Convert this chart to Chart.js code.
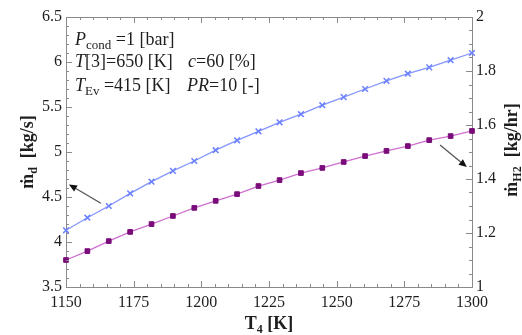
<!DOCTYPE html>
<html>
<head>
<meta charset="utf-8">
<script src="https://cdn.jsdelivr.net/npm/chart.js@4/dist/chart.umd.min.js"></script>
<style>
  html, body { margin: 0; padding: 0; background: #ffffff; }
  #wrap { width: 522px; height: 335px; }
</style>
</head>
<body>
<div id="wrap"><canvas id="c" width="522" height="335"></canvas></div>
<script>
// ---- data ----
const T4 = [1150, 1157.9, 1165.8, 1173.7, 1181.6, 1189.5, 1197.4, 1205.3, 1213.2, 1221.1,
            1228.9, 1236.8, 1244.7, 1252.6, 1260.5, 1268.4, 1276.3, 1284.2, 1292.1, 1300];
const mDotD = [4.13, 4.27, 4.40, 4.54, 4.67, 4.79, 4.90, 5.02, 5.13, 5.23,
               5.33, 5.42, 5.52, 5.61, 5.70, 5.79, 5.87, 5.94, 6.02, 6.10];
const mDotH2 = [1.100, 1.133, 1.170, 1.204, 1.233, 1.263, 1.293, 1.319, 1.344, 1.374,
                1.396, 1.422, 1.441, 1.463, 1.485, 1.504, 1.522, 1.544, 1.559, 1.578];
const xTicks = [1150, 1175, 1200, 1225, 1250, 1275, 1300];
const yLeftTicks = [3.5, 4, 4.5, 5, 5.5, 6, 6.5];
const yRightTicks = [1, 1.2, 1.4, 1.6, 1.8, 2];
// arrows in data coordinates: [x tail, y tail, x tip, y tip]
const arrowLeft = [1162.9, 4.43, 1151.1, 4.64];   // left axis units
const arrowRight = [1288.2, 1.526, 1298.1, 1.444]; // right axis units

const SERIF = '"Liberation Serif", "Times New Roman", serif';
const FRAME = '#8a8a8a';
const TXT = '#1e1e1e';

function drawRich(ctx, parts, x, y, align) {
  let w = 0;
  parts.forEach(p => { ctx.font = p.font; w += ctx.measureText(p.t).width; });
  let cx = align === 'center' ? x - w / 2 : x;
  parts.forEach(p => {
    ctx.font = p.font;
    ctx.fillText(p.t, cx, y + (p.dy || 0));
    cx += ctx.measureText(p.t).width;
  });
}

const decor = {
  id: 'decor',
  afterDraw(chart) {
    const ctx = chart.ctx;
    const a = chart.chartArea;
    const xs = chart.scales.x, yl = chart.scales.y, yr = chart.scales.y2;
    ctx.save();
    // top frame
    ctx.strokeStyle = FRAME; ctx.lineWidth = 1;
    ctx.beginPath(); ctx.moveTo(a.left, a.top + 0.5); ctx.lineTo(a.right, a.top + 0.5); ctx.stroke();
    // ticks x
    ctx.beginPath();
    for (let v = 1150; v <= 1300.001; v += 5) {
      const px = Math.round(xs.getPixelForValue(v)) + 0.5;
      const len = (Math.round(v) % 25 === 0) ? 6 : 3;
      ctx.moveTo(px, a.bottom); ctx.lineTo(px, a.bottom - len);
      ctx.moveTo(px, a.top); ctx.lineTo(px, a.top + len);
    }
    // ticks left
    for (let i = 0; i <= 30; i++) {
      const v = 3.5 + i * 0.1;
      const py = Math.round(yl.getPixelForValue(v)) + 0.5;
      const len = (i % 5 === 0) ? 6 : 3;
      ctx.moveTo(a.left, py); ctx.lineTo(a.left + len, py);
    }
    // ticks right
    for (let i = 0; i <= 20; i++) {
      const v = 1 + i * 0.05;
      const py = Math.round(yr.getPixelForValue(v)) + 0.5;
      const len = (i % 4 === 0) ? 6 : 3;
      ctx.moveTo(a.right, py); ctx.lineTo(a.right - len, py);
    }
    ctx.stroke();

    // arrows
    function arrow(x1, y1, x2, y2) {
      ctx.strokeStyle = '#555'; ctx.fillStyle = '#111'; ctx.lineWidth = 1.3;
      const ang = Math.atan2(y2 - y1, x2 - x1);
      const hl = 8, hw = 3.5;
      const bx = x2 - hl * Math.cos(ang), by = y2 - hl * Math.sin(ang);
      ctx.beginPath(); ctx.moveTo(x1, y1); ctx.lineTo(bx, by); ctx.stroke();
      ctx.beginPath();
      ctx.moveTo(x2, y2);
      ctx.lineTo(bx + hw * Math.sin(ang), by - hw * Math.cos(ang));
      ctx.lineTo(bx - hw * Math.sin(ang), by + hw * Math.cos(ang));
      ctx.closePath(); ctx.fill();
    }
    arrow(xs.getPixelForValue(arrowLeft[0]), yl.getPixelForValue(arrowLeft[1]),
          xs.getPixelForValue(arrowLeft[2]), yl.getPixelForValue(arrowLeft[3]));
    arrow(xs.getPixelForValue(arrowRight[0]), yr.getPixelForValue(arrowRight[1]),
          xs.getPixelForValue(arrowRight[2]), yr.getPixelForValue(arrowRight[3]));

    // annotation text
    ctx.fillStyle = TXT; ctx.textBaseline = 'alphabetic'; ctx.textAlign = 'left';
    const N = '18px ' + SERIF, I = 'italic 18px ' + SERIF, S = '13px ' + SERIF;
    drawRich(ctx, [{t: 'P', font: I}, {t: 'cond', font: S, dy: 4}, {t: ' =1 [bar]', font: N}], 75, 45, 'left');
    drawRich(ctx, [{t: 'T', font: I}, {t: '[3]=650 [K]', font: N}], 75, 67, 'left');
    drawRich(ctx, [{t: 'T', font: I}, {t: 'Ev', font: S, dy: 4}, {t: ' =415 [K]', font: N}], 75, 91, 'left');
    drawRich(ctx, [{t: 'c', font: I}, {t: '=60 [%]', font: N}], 188, 67, 'left');
    drawRich(ctx, [{t: 'PR', font: I}, {t: '=10 [-]', font: N}], 187, 91, 'left');

    // axis titles
    const B = 'bold 18px ' + SERIF, BS = 'bold 12px ' + SERIF;
    drawRich(ctx, [{t: 'T', font: B}, {t: '4', font: BS, dy: 4}, {t: ' [K]', font: B}], (a.left + a.right) / 2, 329, 'center');
    ctx.save();
    ctx.translate(33, (a.top + a.bottom) / 2);
    ctx.rotate(-Math.PI / 2);
    drawRich(ctx, [{t: '\u1E41', font: B}, {t: 'd', font: BS, dy: 4}, {t: '  [kg/s]', font: B}], 0, 0, 'center');
    ctx.restore();
    ctx.save();
    ctx.translate(517, (a.top + a.bottom) / 2 - 2);
    ctx.rotate(-Math.PI / 2);
    drawRich(ctx, [{t: '\u1E41', font: B}, {t: 'H2', font: BS, dy: 4}, {t: '  [kg/hr]', font: B}], 0, 0, 'center');
    ctx.restore();
    ctx.restore();
  }
};

const fmt = v => String(+(+v).toFixed(2));

new Chart(document.getElementById('c'), {
  type: 'line',
  data: {
    datasets: [
      {
        label: 'md',
        data: T4.map((t, i) => ({x: t, y: mDotD[i]})),
        yAxisID: 'y',
        borderColor: '#8495ff',
        borderWidth: 1.3,
        pointStyle: 'crossRot',
        pointRadius: 4,
        pointBorderColor: '#6a80ff',
        pointBorderWidth: 1.5,
        tension: 0,
        clip: 6
      },
      {
        label: 'mH2',
        data: T4.map((t, i) => ({x: t, y: mDotH2[i]})),
        yAxisID: 'y2',
        borderColor: '#cf6fcf',
        borderWidth: 1.3,
        pointStyle: 'rect',
        pointRadius: 3.3,
        pointBackgroundColor: '#7a0c7a',
        pointBorderColor: '#7a0c7a',
        pointBorderWidth: 1,
        tension: 0,
        clip: 6
      }
    ]
  },
  options: {
    responsive: false,
    devicePixelRatio: 1,
    animation: false,
    layout: { padding: { top: 17, left: 0, right: 0, bottom: 0 } },
    plugins: { legend: { display: false }, tooltip: { enabled: false } },
    scales: {
      x: {
        type: 'linear', min: 1150, max: 1300,
        afterBuildTicks: s => { s.ticks = xTicks.map(v => ({value: v})); },
        afterFit: s => { s.height = 48; },
        grid: { display: false, drawTicks: false },
        border: { display: true, color: FRAME, width: 1 },
        ticks: { padding: 6, color: TXT, font: { family: SERIF, size: 16 }, callback: fmt, maxRotation: 0, autoSkip: false }
      },
      y: {
        type: 'linear', position: 'left', min: 3.5, max: 6.5,
        afterBuildTicks: s => { s.ticks = yLeftTicks.map(v => ({value: v})); },
        afterFit: s => { s.width = 66; },
        grid: { display: false, drawTicks: false },
        border: { display: true, color: FRAME, width: 1 },
        ticks: { padding: 4, color: TXT, font: { family: SERIF, size: 16 }, callback: fmt, autoSkip: false }
      },
      y2: {
        type: 'linear', position: 'right', min: 1, max: 2,
        afterBuildTicks: s => { s.ticks = yRightTicks.map(v => ({value: v})); },
        afterFit: s => { s.width = 50; },
        grid: { display: false, drawTicks: false },
        border: { display: true, color: FRAME, width: 1 },
        ticks: { padding: 4, color: TXT, font: { family: SERIF, size: 16 }, callback: fmt, autoSkip: false }
      }
    }
  },
  plugins: [decor]
});
</script>
</body>
</html>
